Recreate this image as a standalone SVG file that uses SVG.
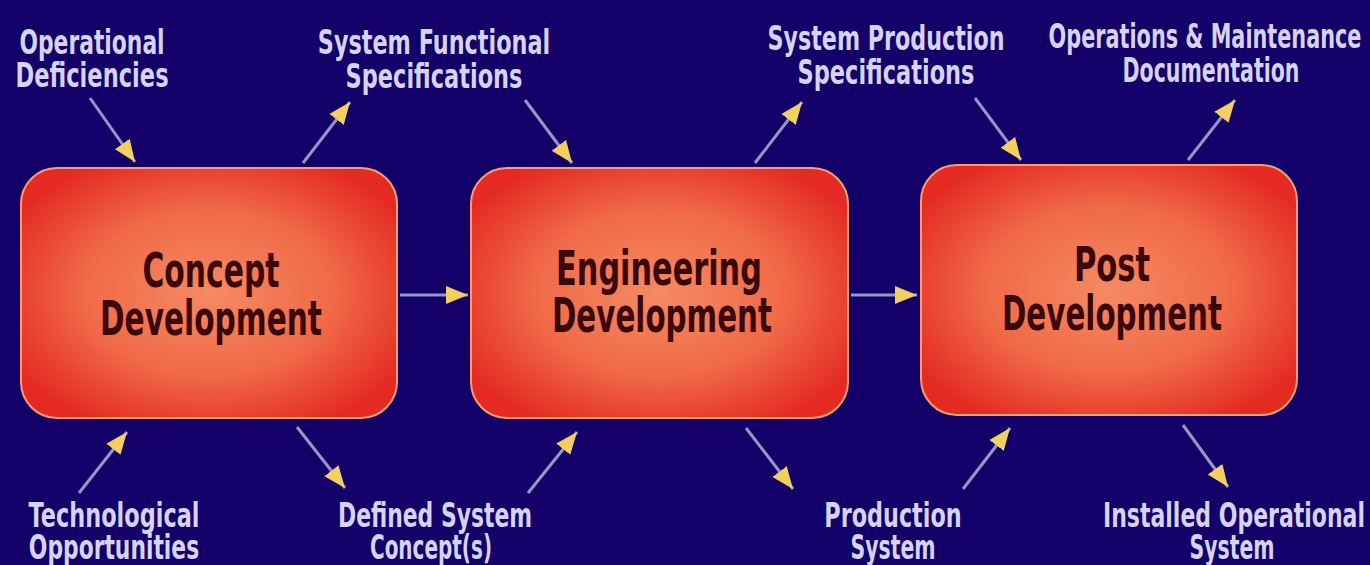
<svg xmlns="http://www.w3.org/2000/svg" width="1370" height="565" viewBox="0 0 1370 565">
<defs>
<radialGradient id="boxg" cx="50%" cy="50%" r="60%">
<stop offset="0" stop-color="#f58a62"/>
<stop offset="0.55" stop-color="#f06a48"/>
<stop offset="1" stop-color="#e42a22"/>
</radialGradient>
<marker id="ah" markerUnits="userSpaceOnUse" markerWidth="24" markerHeight="20" refX="22" refY="10" orient="auto">
<path d="M0,1 L22,10 L0,19 Z" fill="#f2d060"/>
</marker>
<style>
.bg{fill:#130068}
.box{fill:url(#boxg);stroke:#f4a070;stroke-width:2}
.btxt{font-family:"DejaVu Sans","Liberation Sans",sans-serif;font-weight:bold;font-size:48px;fill:#3a0808;text-anchor:middle}
.lbl{font-family:"DejaVu Sans","Liberation Sans",sans-serif;font-weight:bold;font-size:33px;fill:#d6d4f2;text-anchor:middle}
.con{stroke:#9896c6;stroke-width:3;fill:none;marker-end:url(#ah)}
</style>
</defs>
<rect class="bg" x="0" y="0" width="1370" height="565"/>

<g id="concept">
<rect class="box" x="21" y="168" width="376" height="250" rx="36"/>
<text class="btxt" transform="translate(211,287) scale(0.62,1)" textLength="221" lengthAdjust="spacingAndGlyphs">Concept</text>
<text class="btxt" transform="translate(211,335) scale(0.62,1)" textLength="358" lengthAdjust="spacingAndGlyphs">Development</text>
</g>
<g id="engineering">
<rect class="box" x="471" y="168" width="377" height="250" rx="36"/>
<text class="btxt" transform="translate(659,285) scale(0.62,1)" textLength="332" lengthAdjust="spacingAndGlyphs">Engineering</text>
<text class="btxt" transform="translate(662,332) scale(0.62,1)" textLength="355" lengthAdjust="spacingAndGlyphs">Development</text>
</g>
<g id="post">
<rect class="box" x="921" y="165" width="376" height="250" rx="36"/>
<text class="btxt" transform="translate(1112,281) scale(0.62,1)" textLength="123" lengthAdjust="spacingAndGlyphs">Post</text>
<text class="btxt" transform="translate(1112,330) scale(0.62,1)" textLength="355" lengthAdjust="spacingAndGlyphs">Development</text>
</g>

<g id="labels">
<text class="lbl" transform="translate(92,54) scale(0.66,1)" textLength="220" lengthAdjust="spacingAndGlyphs">Operational</text>
<text class="lbl" transform="translate(92,87) scale(0.66,1)" textLength="232" lengthAdjust="spacingAndGlyphs">Deficiencies</text>
<text class="lbl" transform="translate(434,54) scale(0.66,1)" textLength="352" lengthAdjust="spacingAndGlyphs">System Functional</text>
<text class="lbl" transform="translate(434,88) scale(0.66,1)" textLength="268" lengthAdjust="spacingAndGlyphs">Specifications</text>
<text class="lbl" transform="translate(886,50) scale(0.66,1)" textLength="359" lengthAdjust="spacingAndGlyphs">System Production</text>
<text class="lbl" transform="translate(886,84) scale(0.66,1)" textLength="268" lengthAdjust="spacingAndGlyphs">Specifications</text>
<text class="lbl" transform="translate(1205,48) scale(0.66,1)" textLength="474" lengthAdjust="spacingAndGlyphs">Operations &amp; Maintenance</text>
<text class="lbl" transform="translate(1211,82) scale(0.66,1)" textLength="268" lengthAdjust="spacingAndGlyphs">Documentation</text>
<text class="lbl" transform="translate(114,527) scale(0.66,1)" textLength="259" lengthAdjust="spacingAndGlyphs">Technological</text>
<text class="lbl" transform="translate(114,559) scale(0.66,1)" textLength="258" lengthAdjust="spacingAndGlyphs">Opportunities</text>
<text class="lbl" transform="translate(435,527) scale(0.66,1)" textLength="294" lengthAdjust="spacingAndGlyphs">Defined System</text>
<text class="lbl" transform="translate(431,559) scale(0.66,1)" textLength="185" lengthAdjust="spacingAndGlyphs">Concept(s)</text>
<text class="lbl" transform="translate(893,527) scale(0.66,1)" textLength="208" lengthAdjust="spacingAndGlyphs">Production</text>
<text class="lbl" transform="translate(893,559) scale(0.66,1)" textLength="129" lengthAdjust="spacingAndGlyphs">System</text>
<text class="lbl" transform="translate(1234,527) scale(0.66,1)" textLength="397" lengthAdjust="spacingAndGlyphs">Installed Operational</text>
<text class="lbl" transform="translate(1232,559) scale(0.66,1)" textLength="129" lengthAdjust="spacingAndGlyphs">System</text>
</g>

<g id="connectors">
<line class="con" x1="400" y1="295" x2="468" y2="295"/>
<line class="con" x1="851" y1="295" x2="917" y2="295"/>
<line class="con" x1="90" y1="98" x2="135" y2="162"/>
<line class="con" x1="303" y1="163" x2="350" y2="102"/>
<line class="con" x1="525" y1="100" x2="572" y2="163"/>
<line class="con" x1="755" y1="163" x2="802" y2="102"/>
<line class="con" x1="975" y1="98" x2="1021" y2="160"/>
<line class="con" x1="1188" y1="160" x2="1235" y2="100"/>
<line class="con" x1="79" y1="493" x2="127" y2="432"/>
<line class="con" x1="297" y1="427" x2="345" y2="488"/>
<line class="con" x1="528" y1="493" x2="577" y2="432"/>
<line class="con" x1="746" y1="428" x2="793" y2="489"/>
<line class="con" x1="963" y1="489" x2="1010" y2="428"/>
<line class="con" x1="1183" y1="425" x2="1228" y2="487"/>
</g>
</svg>
